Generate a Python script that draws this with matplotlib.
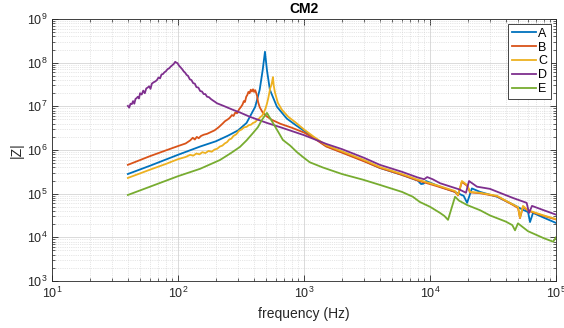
import numpy as np
import matplotlib
matplotlib.use("Agg")
import matplotlib.pyplot as plt
from matplotlib.ticker import LogLocator, NullFormatter

plt.rcParams['font.family'] = ['Liberation Sans', 'DejaVu Sans']
plt.rcParams['mathtext.fontset'] = 'custom'
plt.rcParams['mathtext.rm'] = 'Liberation Sans'
plt.rcParams['mathtext.default'] = 'regular'

title = "CM2"
xlabel = "frequency (Hz)"
ylabel = "|Z|"
labels = ["A", "B", "C", "D", "E"]
colors = ["#0072BD", "#D95319", "#EDB120", "#7E2F8E", "#77AC30"]

# ---- series A (blue): frequency [Hz], log10|Z|
fA = [40, 60, 100, 150, 200, 250, 300, 350, 410, 445, 470, 490, 508, 536, 610, 730, 850,
      1000, 1200, 1500, 2000, 3000, 4000, 6000, 8000, 8500, 8900, 9300, 12000, 15800,
      18500, 19700, 21500, 25000, 34000, 45000, 54700, 60000, 62200, 65700, 80000, 100000]
zA = [5.45, 5.64, 5.89, 6.08, 6.20, 6.33, 6.45, 6.62, 6.99, 7.38, 7.83, 8.25, 7.83, 7.38, 6.99, 6.72, 6.58,
      6.44, 6.28, 6.09, 5.95, 5.75, 5.59, 5.43, 5.30, 5.22, 5.23, 5.29, 5.16, 5.04,
      4.95, 4.79, 5.12, 5.04, 4.93, 4.76, 4.63, 4.58, 4.35, 4.56, 4.45, 4.33]

# ---- series B (orange)
fB = [40, 60, 80, 100, 115, 125, 131, 136, 141, 146, 152, 160, 170, 179, 195, 210, 225, 236, 248,
      258, 268, 276, 285, 294, 305, 315, 325, 333, 340, 348, 355, 362, 370, 378, 386, 394, 402,
      410, 418, 424, 432, 445, 470, 500, 556, 650, 800, 1000, 1200, 1500, 2000, 3000, 4000,
      6000, 8000, 10000, 12000, 15800, 16700, 17900, 19700, 20800, 25000, 34000, 45000, 50000,
      51800, 54700, 60000, 80000, 100000]
zB = [5.66, 5.86, 5.99, 6.09, 6.15, 6.22, 6.28, 6.24, 6.30, 6.27, 6.32, 6.35, 6.37, 6.40, 6.45, 6.52, 6.60, 6.66, 6.70,
      6.74, 6.80, 6.78, 6.86, 6.84, 6.93, 6.98, 7.04, 7.12, 7.10, 7.22, 7.26, 7.33, 7.30, 7.38, 7.34, 7.39, 7.33,
      7.37, 7.30, 7.24, 7.10, 6.98, 6.86, 6.78, 6.69, 6.60, 6.51, 6.40, 6.27, 6.08, 5.94, 5.74, 5.59,
      5.43, 5.30, 5.22, 5.15, 5.04, 4.96, 5.27, 5.18, 5.03, 5.01, 4.94, 4.75, 4.67,
      4.44, 4.70, 4.61, 4.49, 4.41]

# ---- series C (yellow)
fC = [40, 60, 80, 100, 115, 125, 132, 140, 148, 156, 165, 175, 185, 195, 205, 215, 225, 235, 245,
      255, 265, 275, 290, 305, 320, 335, 350, 365, 380, 394, 410, 425, 440, 452, 464, 480, 495,
      508, 520, 530, 540, 550, 558, 567, 575, 587, 620, 668, 750, 850, 1000, 1200, 1500, 2000,
      3000, 4000, 6000, 8000, 10000, 12000, 15800, 16700, 17900, 19700, 20800, 25000, 34000,
      45000, 50000, 51800, 54700, 60000, 80000, 100000]
zC = [5.36, 5.55, 5.68, 5.79, 5.84, 5.89, 5.87, 5.92, 5.90, 5.95, 5.93, 5.98, 5.96, 6.01, 6.03, 6.08, 6.10, 6.15, 6.18,
      6.24, 6.26, 6.32, 6.36, 6.44, 6.47, 6.52, 6.53, 6.57, 6.58, 6.62, 6.64, 6.69, 6.72, 6.76, 6.78, 6.86, 6.95,
      7.06, 7.18, 7.30, 7.42, 7.48, 7.56, 7.67, 7.48, 7.33, 7.08, 6.92, 6.76, 6.64, 6.47, 6.30, 6.11, 5.97,
      5.77, 5.61, 5.45, 5.32, 5.24, 5.17, 5.06, 4.97, 5.29, 5.20, 5.04, 5.02, 4.95,
      4.76, 4.69, 4.45, 4.72, 4.62, 4.50, 4.42]

# ---- series D (purple)
fD = [40, 41, 42, 43, 44, 45, 46, 47, 48, 49, 50, 51.5, 53, 54.5, 56, 57.5, 59, 60.5, 62, 64, 66,
      68, 70, 72, 74, 76, 78, 80, 82.5, 85, 87.5, 90, 92.5, 95, 97, 99, 102, 105, 108, 111, 114,
      117, 120, 124, 128, 132, 136, 140, 145, 150, 155, 160, 165, 170, 176, 182, 188, 195, 204,
      230, 273, 310, 372, 508, 668, 1000, 1500, 2000, 3000, 4000, 6000, 8000, 9000, 9500,
      10500, 12000, 15000, 17000, 19300, 20400, 23600, 29900, 45700, 58500, 61100, 64500,
      80000, 100000]
zD = [7.01, 6.97, 7.06, 7.05, 7.12, 7.06, 7.17, 7.19, 7.22, 7.18, 7.30, 7.27, 7.36, 7.30, 7.41, 7.43, 7.46, 7.40, 7.52, 7.55, 7.57,
      7.60, 7.66, 7.64, 7.73, 7.74, 7.78, 7.80, 7.85, 7.87, 7.91, 7.94, 7.97, 8.02, 8.00, 7.99, 7.93, 7.89, 7.85, 7.80, 7.77,
      7.72, 7.70, 7.62, 7.60, 7.53, 7.52, 7.44, 7.43, 7.35, 7.34, 7.28, 7.28, 7.22, 7.21, 7.17, 7.14, 7.11, 7.07,
      7.01, 6.92, 6.86, 6.76, 6.62, 6.51, 6.34, 6.14, 6.02, 5.82, 5.66, 5.50, 5.37, 5.33, 5.38,
      5.33, 5.24, 5.15, 5.10, 5.02, 5.29, 5.16, 5.11, 4.90, 4.79, 4.56, 4.72,
      4.62, 4.52]

# ---- series E (green)
fE = [40, 60, 100, 150, 215, 260, 310, 350, 394, 430, 464, 490, 508, 530, 567, 620, 680, 777,
      880, 1000, 1110, 1410, 2000, 2940, 4010, 6000, 7300, 8300, 10000, 12000, 13000, 13900,
      15800, 17000, 19700, 25000, 30000, 40000, 45000, 47300, 49900, 60000, 80000, 95000, 100000]
zE = [4.97, 5.16, 5.40, 5.57, 5.77, 5.92, 6.07, 6.22, 6.39, 6.52, 6.69, 6.79, 6.85, 6.76, 6.62, 6.43, 6.23, 6.10,
      5.95, 5.82, 5.72, 5.60, 5.45, 5.32, 5.20, 5.04, 4.93, 4.81, 4.70, 4.56, 4.49, 4.40,
      4.93, 4.84, 4.74, 4.62, 4.50, 4.36, 4.28, 4.16, 4.32, 4.14, 3.98, 3.90, 4.00]

series = [(fA, zA), (fB, zB), (fC, zC), (fD, zD), (fE, zE)]

fig = plt.figure(figsize=(5.64, 3.28), dpi=100)
ax = fig.add_axes([52/564, 1-281/328, 504/564, 262/328])

for (f, z), lab, col in zip(series, labels, colors):
    ax.plot(f, 10.0**np.asarray(z), color=col, lw=1.3, label=lab)

ax.set_xscale('log')
ax.set_yscale('log')
ax.set_xlim(10, 1e5)
ax.set_ylim(1e3, 1e9)
ax.xaxis.set_major_locator(LogLocator(base=10, numticks=10))
ax.yaxis.set_major_locator(LogLocator(base=10, numticks=10))
ax.xaxis.set_minor_locator(LogLocator(base=10, subs=np.arange(2, 10), numticks=50))
ax.yaxis.set_minor_locator(LogLocator(base=10, subs=np.arange(2, 10), numticks=50))
ax.xaxis.set_minor_formatter(NullFormatter())
ax.yaxis.set_minor_formatter(NullFormatter())

gray = '#262626'
ax.grid(True, which='major', color='#d4d4d4', lw=0.6, ls='-')
ax.grid(True, which='minor', color='#cfcfcf', lw=0.5, ls=':')
ax.set_axisbelow(True)
ax.tick_params(which='both', direction='in', top=True, right=True, colors=gray, labelsize=9)
ax.tick_params(which='major', length=4, width=0.6)
ax.tick_params(which='minor', length=2, width=0.5)
for s in ax.spines.values():
    s.set_color(gray)
    s.set_linewidth(0.6)

ax.set_xlabel(xlabel, fontsize=10, color=gray, labelpad=4)
ax.set_ylabel(ylabel, fontsize=10, color=gray, labelpad=2)
ax.set_title(title, fontsize=10, fontweight='bold', color='black', pad=4)

leg = ax.legend(loc='upper right', fontsize=9, handlelength=1.9, handletextpad=0.2,
                borderpad=0.3, labelspacing=0.15, borderaxespad=0.4, fancybox=False,
                edgecolor=gray, framealpha=1)
leg.get_frame().set_linewidth(0.6)

fig.savefig("out.png", dpi=100, facecolor='white')
